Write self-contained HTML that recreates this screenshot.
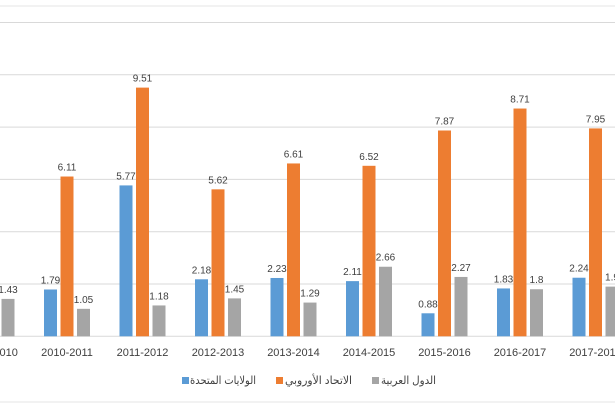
<!DOCTYPE html>
<html><head><meta charset="utf-8"><style>
html,body{margin:0;padding:0;background:#fff;}
svg{display:block;}
text{font-family:"Liberation Sans","DejaVu Sans",sans-serif;fill:#404040;}
</style></head><body>
<svg width="615" height="410" viewBox="0 0 615 410" xmlns="http://www.w3.org/2000/svg">
<line x1="0" y1="6" x2="615" y2="6" stroke="#e6e6e6" stroke-width="1"/>
<line x1="0" y1="402" x2="615" y2="402" stroke="#e6e6e6" stroke-width="1"/>
<g stroke="#d9d9d9" stroke-width="1">
<line x1="0" y1="22.5" x2="615" y2="22.5"/>
<line x1="0" y1="74.8" x2="615" y2="74.8"/>
<line x1="0" y1="127.1" x2="615" y2="127.1"/>
<line x1="0" y1="179.4" x2="615" y2="179.4"/>
<line x1="0" y1="231.7" x2="615" y2="231.7"/>
<line x1="0" y1="284" x2="615" y2="284"/>
<line x1="0" y1="336.3" x2="615" y2="336.3"/>
</g>
<g id="bars"></g>
<g font-size="11" text-anchor="middle" id="cats"></g>
<g font-size="10" text-anchor="middle" id="vals"></g>
<rect x="182" y="377" width="7" height="7" fill="#5b9bd5"/>
<text x="190" y="384" font-size="11" textLength="66" lengthAdjust="spacingAndGlyphs">الولايات المتحدة</text>
<rect x="276" y="377" width="7" height="7" fill="#ed7d31"/>
<text x="285" y="384" font-size="11" textLength="67" lengthAdjust="spacingAndGlyphs">الاتحاد الأوروبي</text>
<rect x="372" y="377" width="7" height="7" fill="#a5a5a5"/>
<text x="381" y="384" font-size="11" textLength="55" lengthAdjust="spacingAndGlyphs">الدول العربية</text>
</svg>
<script>
const data=[["2009-2010",null,null,1.43],["2010-2011",1.79,6.11,1.05],["2011-2012",5.77,9.51,1.18],["2012-2013",2.18,5.62,1.45],["2013-2014",2.23,6.61,1.29],["2014-2015",2.11,6.52,2.66],["2015-2016",0.88,7.87,2.27],["2016-2017",1.83,8.71,1.8],["2017-2018",2.24,7.95,1.9]];
const ns="http://www.w3.org/2000/svg";
const cols=["#5b9bd5","#ed7d31","#a5a5a5"],offs=[-23,-6.5,10];
const B=336.3,S=26.15;
const bars=document.getElementById("bars"),cats=document.getElementById("cats"),vals=document.getElementById("vals");
data.forEach((d,k)=>{
 const c=-8.5+75.5*k;
 let t=document.createElementNS(ns,"text");t.setAttribute("x",c);t.setAttribute("y",356);t.textContent=d[0];cats.appendChild(t);
 for(let i=0;i<3;i++){const v=d[i+1];if(v==null)continue;
  const h=v*S;let r=document.createElementNS(ns,"rect");
  r.setAttribute("x",c+offs[i]);r.setAttribute("y",B-h);r.setAttribute("width",13);r.setAttribute("height",h);r.setAttribute("fill",cols[i]);bars.appendChild(r);
  let l=document.createElementNS(ns,"text");l.setAttribute("x",c+offs[i]+6.5);l.setAttribute("y",B-h-6);l.textContent=String(v);vals.appendChild(l);}
});
</script>
</body></html>
